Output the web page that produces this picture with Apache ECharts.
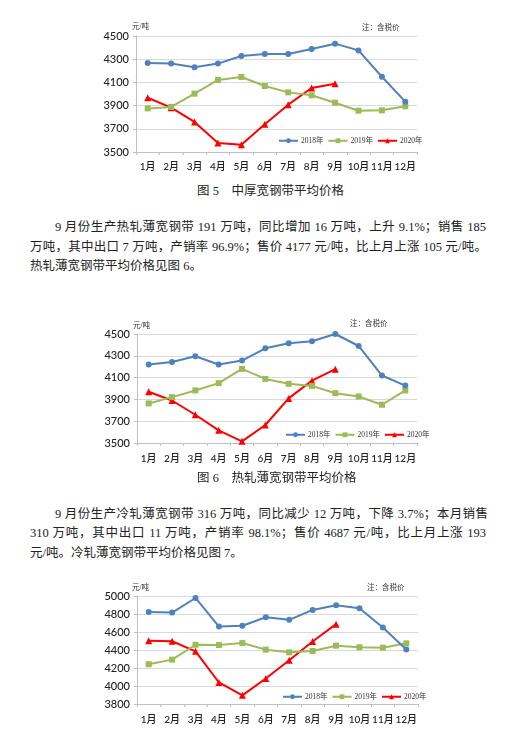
<!DOCTYPE html>
<html>
<head>
<meta charset="utf-8">
<script src="https://cdn.jsdelivr.net/npm/echarts@6/dist/echarts.min.js"></script>
<style>
  html, body { margin: 0; padding: 0; background: #ffffff; }
  body { width: 520px; height: 735px; position: relative; overflow: hidden; }
  .chart { position: absolute; left: 0; width: 520px; }
  .txt { position: absolute; font-family: "Liberation Serif", "Noto Sans CJK SC", serif; font-size: 12.5px; line-height: 20px; color: #222; white-space: nowrap; }
  .just { text-align: justify; text-align-last: justify; white-space: normal; }
</style>
</head>
<body>
<div id="c1" class="chart" style="top:15px;height:165px;"></div>
<div class="txt" style="left:197px;top:181px;">图 5　中厚宽钢带平均价格</div>
<div class="txt just" style="left:55px;top:217px;width:431px;">9 月份生产热轧薄宽钢带 191 万吨，同比增加 16 万吨，上升 9.1%；销售 185</div>
<div class="txt just" style="left:30px;top:237px;width:457px;">万吨，其中出口 7 万吨，产销率 96.9%；售价 4177 元/吨，比上月上涨 105 元/吨。</div>
<div class="txt" style="left:30px;top:256px;">热轧薄宽钢带平均价格见图 6。</div>
<div id="c2" class="chart" style="top:310px;height:160px;"></div>
<div class="txt" style="left:197px;top:468px;">图 6　热轧薄宽钢带平均价格</div>
<div class="txt just" style="left:55px;top:504px;width:433px;">9 月份生产冷轧薄宽钢带 316 万吨，同比减少 12 万吨，下降 3.7%；本月销售</div>
<div class="txt just" style="left:30px;top:523px;width:456px;">310 万吨，其中出口 11 万吨，产销率 98.1%；售价 4687 元/吨，比上月上涨 193</div>
<div class="txt" style="left:30px;top:543px;">元/吨。冷轧薄宽钢带平均价格见图 7。</div>
<div id="c3" class="chart" style="top:570px;height:165px;"></div>
<script>
var months = ['1月','2月','3月','4月','5月','6月','7月','8月','9月','10月','11月','12月'];
var seriesNames = ['2018年','2019年','2020年'];

// 图5 中厚宽钢带平均价格
var thick2018 = [4268, 4262, 4230, 4262, 4328, 4345, 4345, 4388, 4434, 4376, 4149, 3934];
var thick2019 = [3876, 3888, 4003, 4121, 4147, 4069, 4014, 3989, 3925, 3856, 3859, 3894];
var thick2020 = [3968, 3882, 3759, 3578, 3563, 3739, 3908, 4052, 4089];

// 图6 热轧薄宽钢带平均价格
var hot2018 = [4220, 4244, 4296, 4220, 4256, 4369, 4415, 4433, 4500, 4390, 4119, 4027];
var hot2019 = [3863, 3921, 3982, 4049, 4180, 4088, 4043, 4024, 3957, 3927, 3851, 3982];
var hot2020 = [3970, 3890, 3759, 3616, 3515, 3665, 3909, 4072, 4177];

// 图7 冷轧薄宽钢带平均价格
var cold2018 = [4823, 4816, 4978, 4661, 4669, 4764, 4735, 4845, 4897, 4864, 4650, 4405];
var cold2019 = [4242, 4293, 4458, 4455, 4477, 4404, 4374, 4389, 4448, 4430, 4426, 4474];
var cold2020 = [4503, 4497, 4385, 4039, 3896, 4084, 4286, 4494, 4687];

var axis1 = {min: 3500, max: 4500, interval: 200};
var axis2 = {min: 3500, max: 4500, interval: 200};
var axis3 = {min: 3800, max: 5000, interval: 200};

var unitLabel = '元/吨';
var noteLabel = '注：含税价';

var serifFont = '"Liberation Serif", "Noto Sans CJK SC", serif';
var labelFont = 'Lato, "Noto Sans CJK SC", sans-serif';

function build(el, d, L) {
  var chart = echarts.init(document.getElementById(el), null, {renderer: 'canvas'});
  var colors = ['#4F81BD', '#9BBB59', '#FF0000'];
  var symbols = ['circle', 'rect', 'triangle'];
  var sizes = [6, 6, 7];
  var datas = [d.a, d.b, d.c];
  var series = datas.map(function (arr, i) {
    return {
      name: seriesNames[i], type: 'line', data: arr,
      symbol: symbols[i], symbolSize: sizes[i], showSymbol: true,
      lineStyle: {color: colors[i], width: 2},
      itemStyle: {color: colors[i]},
      animation: false, z: 3 + (2 - i)
    };
  });
  chart.setOption({
    animation: false,
    grid: {left: L.left, right: 520 - L.right, top: L.top, height: L.h},
    legend: {
      data: seriesNames, left: L.legL, top: L.legT,
      itemWidth: 19, itemHeight: 6, itemGap: 4,
      textStyle: {fontSize: 7.5, fontFamily: serifFont, color: '#333', padding: [0, 0, 0, -2]}
    },
    xAxis: {
      type: 'category', data: months, boundaryGap: true,
      axisLine: {show: true, lineStyle: {color: '#BFBFBF', width: 1}},
      axisTick: {show: true, length: 3, interval: 0, lineStyle: {color: '#BFBFBF'}},
      axisLabel: {interval: 0, margin: L.xm, fontSize: 10, fontWeight: 500, color: '#222', fontFamily: labelFont}
    },
    yAxis: {
      type: 'value', min: d.axis.min, max: d.axis.max, interval: d.axis.interval,
      axisLine: {show: true, lineStyle: {color: '#BFBFBF', width: 1}},
      axisTick: {show: true, length: 3, lineStyle: {color: '#BFBFBF'}},
      splitLine: {show: true, lineStyle: {color: '#D9D9D9', width: 1}},
      axisLabel: {margin: 7, fontSize: 11, fontWeight: 500, color: '#222', fontFamily: labelFont,
        formatter: function (v) { return String(v); }}
    },
    graphic: [
      {type: 'text', left: L.uX, top: L.uY, style: {text: unitLabel, fontSize: 7.5, fontFamily: serifFont, fill: '#333'}},
      {type: 'text', left: L.nX, top: L.nY, style: {text: noteLabel, fontSize: 7.5, fontFamily: serifFont, fill: '#333'}}
    ],
    series: series
  });
}

build('c1', {a: thick2018, b: thick2019, c: thick2020, axis: axis1},
  {left: 136, right: 417, top: 21, h: 116, xm: 10, legL: 273, legT: 117, uX: 132, uY: 8, nX: 362, nY: 9});
build('c2', {a: hot2018, b: hot2019, c: hot2020, axis: axis2},
  {left: 137, right: 417, top: 24, h: 109, xm: 11, legL: 280, legT: 116, uX: 133, uY: 12, nX: 350, nY: 10});
build('c3', {a: cold2018, b: cold2019, c: cold2020, axis: axis3},
  {left: 137, right: 418, top: 26, h: 108, xm: 11, legL: 277, legT: 118, uX: 132, uY: 14, nX: 367, nY: 14});
</script>
</body>
</html>
